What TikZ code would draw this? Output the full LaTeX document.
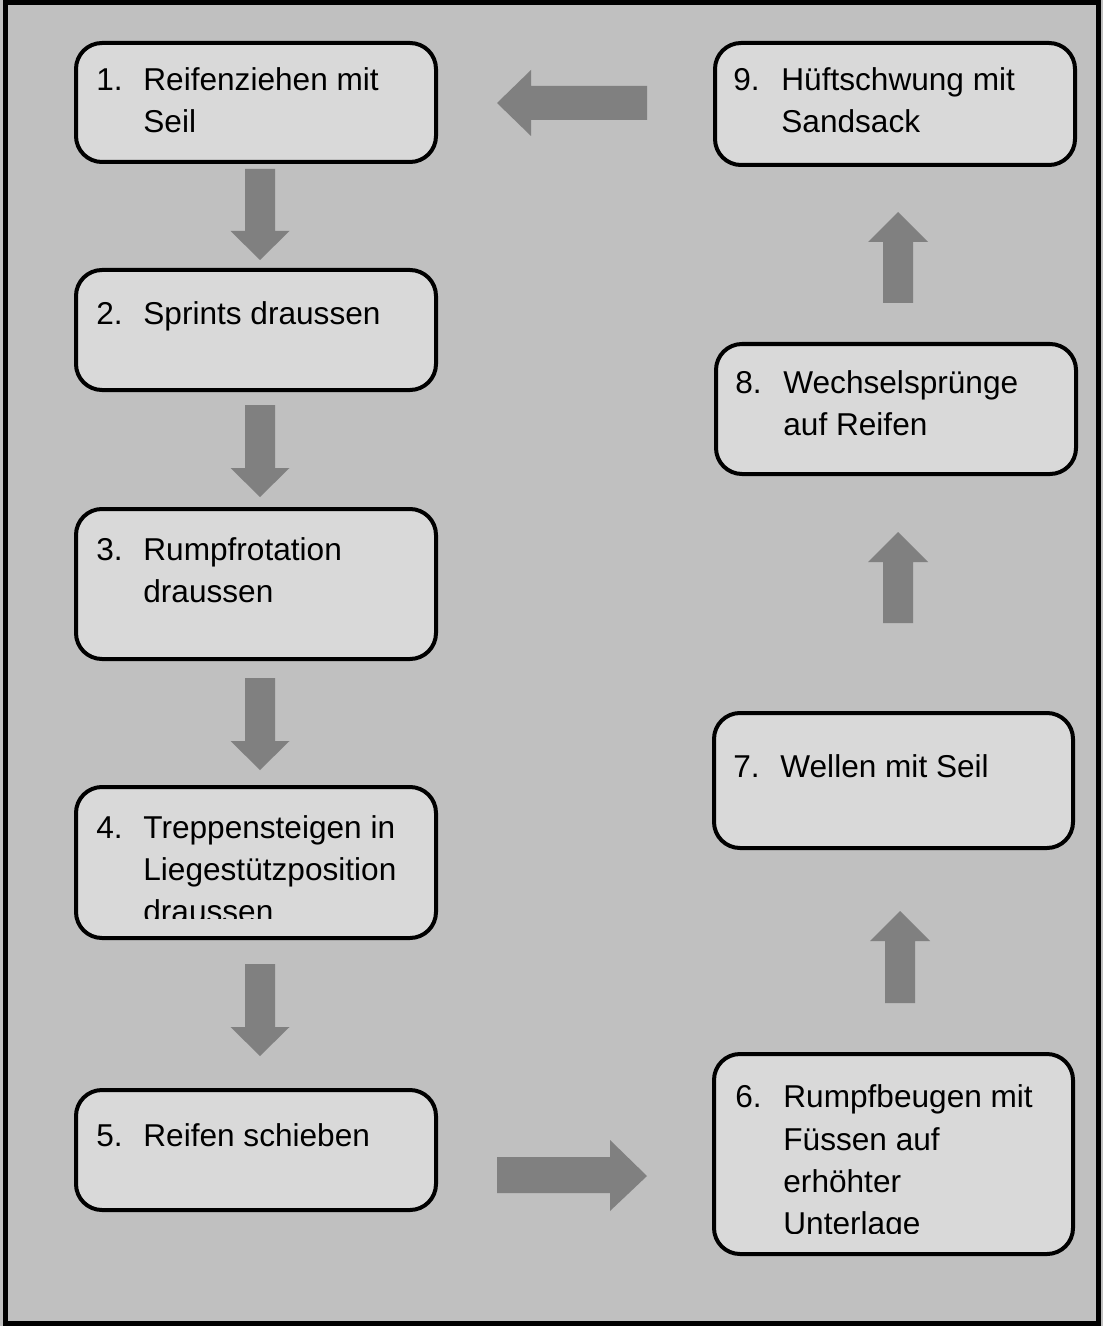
\documentclass[tikz,border=0pt]{standalone}
\usepackage{fontspec}
\setmainfont{Liberation Sans}
\definecolor{bgc}{HTML}{C0C0C0}
\definecolor{boxc}{HTML}{D9D9D9}
\definecolor{arrc}{HTML}{808080}
\newcommand\blkdn[3]{\fill[arr] (#1-15,#2) -- (#1+15,#2) -- (#1+15,#3-29) -- (#1+29.5,#3-29) -- (#1,#3) -- (#1-29.5,#3-29) -- (#1-15,#3-29) -- cycle;}
\newcommand\blkup[3]{\fill[arr] (#1-15,#2) -- (#1+15,#2) -- (#1+15,#3+30) -- (#1+30,#3+30) -- (#1,#3) -- (#1-30,#3+30) -- (#1-15,#3+30) -- cycle;}
\begin{document}
\begin{tikzpicture}[x=0.5pt,y=-0.5pt,
  box/.style={draw=black, line width=2pt, fill=boxc, rounded corners=13pt, inner sep=0pt},
  arr/.style={fill=arrc},
  lbl/.style={inner sep=0pt, anchor=base west, font=\fontsize{15.8pt}{19pt}\selectfont}]
\useasboundingbox (0,0) rectangle (1103,1326);
\fill[bgc] (0,0) rectangle (1103,1326);
\draw[line width=2.5pt] (5.5,2.5) rectangle (1098.5,1323.5);
% boxes
\node[box, minimum width=180pt, minimum height=59.5pt] (b1) at (256,102.5) {};
\node[box, minimum width=180pt, minimum height=60pt] (b2) at (256,330) {};
\node[box, minimum width=180pt, minimum height=75pt] (b3) at (256,584) {};
\node[box, minimum width=180pt, minimum height=75.5pt] (b4) at (256,862.5) {};
\node[box, minimum width=180pt, minimum height=60pt] (b5) at (256,1150) {};
\node[box, minimum width=179.5pt, minimum height=100pt] (b6) at (893.5,1154) {};
\node[box, minimum width=179.5pt, minimum height=67.5pt] (b7) at (893.5,780.5) {};
\node[box, minimum width=180pt, minimum height=65pt] (b8) at (896,409) {};
\node[box, minimum width=180pt, minimum height=61pt] (b9) at (895,104) {};
% texts
\node[lbl] (n1) at (96,91) {1.};
\node[lbl] (t1a) at (143,91) {Reifenziehen mit};
\node[lbl] (t1b) at (143,133) {Seil};
\node[lbl] (n2) at (96,325) {2.};
\node[lbl] (t2a) at (143,325) {Sprints draussen};
\node[lbl] (n3) at (96,560) {3.};
\node[lbl] (t3a) at (143,560) {Rumpfrotation};
\node[lbl] (t3b) at (143,602) {draussen};
\begin{scope}
\clip (70,780) rectangle (440,918);
\node[lbl] (n4) at (96,838) {4.};
\node[lbl] (t4a) at (143,838) {Treppensteigen in};
\node[lbl] (t4b) at (143,880) {Liegestützposition};
\node[lbl] (t4c) at (143,922) {draussen};
\end{scope}
\node[lbl] (n5) at (96,1146) {5.};
\node[lbl] (t5a) at (143,1146) {Reifen schieben};
\begin{scope}
\clip (705,1045) rectangle (1080,1233);
\node[lbl] (n6) at (735,1107) {6.};
\node[lbl] (t6a) at (783,1107) {Rumpfbeugen mit};
\node[lbl] (t6b) at (783,1150) {Füssen auf};
\node[lbl] (t6c) at (783,1192) {erhöhter};
\node[lbl] (t6d) at (783,1234) {Unterlage};
\end{scope}
\node[lbl] (n7) at (733,777) {7.};
\node[lbl] (t7a) at (780,777) {Wellen mit Seil};
\node[lbl] (n8) at (735,393) {8.};
\node[lbl] (t8a) at (783,393) {Wechselsprünge};
\node[lbl] (t8b) at (783,435) {auf Reifen};
\node[lbl] (n9) at (733,91) {9.};
\node[lbl] (t9a) at (781,91) {Hüftschwung mit};
\node[lbl] (t9b) at (781,133) {Sandsack};
% arrows
\blkdn{260}{169}{260}
\blkdn{260}{405}{497}
\blkdn{260}{678}{770}
\blkdn{260}{964}{1056}
\blkup{900}{1003}{911}
\blkup{898}{623}{532}
\blkup{898}{303}{212}
\fill[arr] (647,86) -- (531,86) -- (531,70) -- (497,103) -- (531,136) -- (531,120) -- (647,120) -- cycle;
\fill[arr] (497,1157) -- (610,1157) -- (610,1140) -- (647,1176) -- (610,1211) -- (610,1193) -- (497,1193) -- cycle;
\end{tikzpicture}
\end{document}
